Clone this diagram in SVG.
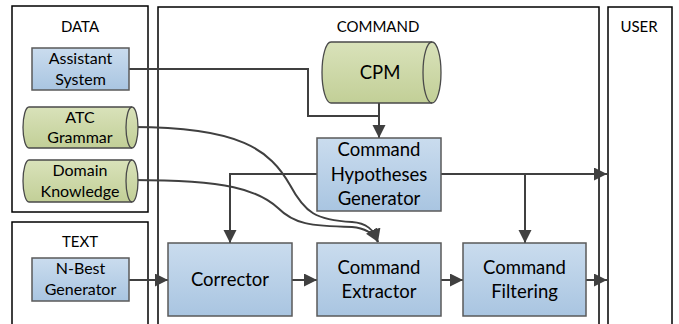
<svg xmlns="http://www.w3.org/2000/svg" width="679" height="324" viewBox="0 0 679 324">
<defs>
<linearGradient id="gb" x1="0" y1="0" x2="0" y2="1"><stop offset="0" stop-color="#cadcee"/><stop offset="1" stop-color="#a9c5e1"/></linearGradient>
<linearGradient id="gg" x1="0" y1="0" x2="0" y2="1"><stop offset="0" stop-color="#d9e2ba"/><stop offset="1" stop-color="#c2cf97"/></linearGradient>
<marker id="ah" markerUnits="userSpaceOnUse" markerWidth="14" markerHeight="14" refX="13" refY="6.5" orient="auto"><path d="M0,0 L13,6.5 L0,13 Z" fill="#404040"/></marker>
<style>
.panel{fill:#fff;stroke:#000;stroke-width:1.5}
.box{fill:url(#gb);stroke:#5a5a5a;stroke-width:1.5}
.cyl{fill:url(#gg);stroke:#4a4a4a;stroke-width:1.3}
.cin{fill:none;stroke:#4a4a4a;stroke-width:1.3}
.t{font-family:Lato,"Liberation Sans",sans-serif;fill:#000;text-anchor:middle}
.ti{font-size:15px}
.s{font-size:16px}
.b{font-size:18.5px}
.c{fill:none;stroke:#404040;stroke-width:2}
.a{marker-end:url(#ah)}
</style>
</defs>
<g id="panels">
<rect id="panel-data" class="panel" x="12" y="6" width="136" height="206"/>
<rect id="panel-text" class="panel" x="12" y="222" width="136" height="110"/>
<rect id="panel-command" class="panel" x="158" y="7" width="441" height="325"/>
<rect id="panel-user" class="panel" x="608" y="7" width="64" height="325"/>
<text class="t ti" x="80" y="32">DATA</text>
<text class="t ti" x="80" y="247">TEXT</text>
<text class="t ti" x="378" y="32">COMMAND</text>
<text class="t ti" x="639" y="32">USER</text>
</g>
<g id="connectors">
<path class="c" d="M129,69 H308 V116 H379"/>
<path class="c a" d="M379,103 V138"/>
<path class="c a" d="M133,127 C240,127 270,150 290,185 C305,213 316,220 352,222 C366,223 374,229 378,242"/>
<path class="c a" d="M133,180 C228,180 258,190 278,208 C294,224 310,226 352,227 C365,228 373,233 378,242"/>
<path class="c a" d="M317,174 H230 V243"/>
<path class="c a" d="M441,174 H607"/>
<path class="c a" d="M525,174 V243"/>
<path class="c a" d="M129,280 H168"/>
<path class="c a" d="M292,280 H317"/>
<path class="c a" d="M441,280 H463"/>
<path class="c a" d="M586,280 H607"/>
</g>
<g id="assistant-system">
<rect class="box" x="32" y="48" width="97" height="42"/>
<text class="t s" x="80.5" y="64">Assistant</text>
<text class="t s" x="80.5" y="85">System</text>
</g>
<g id="atc-grammar">
<path class="cyl" d="M29,107 H132 A6,20.5 0 0 1 132,148 H29 A6,20.5 0 0 1 29,107 Z"/>
<path class="cin" d="M132,107 A6,20.5 0 0 0 132,148"/>
<text class="t s" x="80" y="123">ATC</text>
<text class="t s" x="80" y="143">Grammar</text>
</g>
<g id="domain-knowledge">
<path class="cyl" d="M29,160 H132 A6,21 0 0 1 132,202 H29 A6,21 0 0 1 29,160 Z"/>
<path class="cin" d="M132,160 A6,21 0 0 0 132,202"/>
<text class="t s" x="80" y="176">Domain</text>
<text class="t s" x="80" y="197">Knowledge</text>
</g>
<g id="n-best-generator">
<rect class="box" x="32" y="258" width="97" height="43"/>
<text class="t s" x="80.5" y="274">N-Best</text>
<text class="t s" x="80.5" y="295">Generator</text>
</g>
<g id="cpm">
<path class="cyl" d="M331,42 H432 A9,30.5 0 0 1 432,103 H331 A9,30.5 0 0 1 331,42 Z"/>
<path class="cin" d="M432,42 A9,30.5 0 0 0 432,103"/>
<text class="t b" x="380" y="79">CPM</text>
</g>
<g id="command-hypotheses-generator">
<rect class="box" x="317" y="138" width="124" height="73"/>
<text class="t b" x="379" y="156">Command</text>
<text class="t b" x="379" y="181">Hypotheses</text>
<text class="t b" x="379" y="205">Generator</text>
</g>
<g id="corrector">
<rect class="box" x="168" y="243" width="124" height="73"/>
<text class="t b" x="230" y="286">Corrector</text>
</g>
<g id="command-extractor">
<rect class="box" x="317" y="243" width="124" height="73"/>
<text class="t b" x="379" y="274">Command</text>
<text class="t b" x="379" y="298">Extractor</text>
</g>
<g id="command-filtering">
<rect class="box" x="463" y="243" width="123" height="73"/>
<text class="t b" x="524.5" y="274">Command</text>
<text class="t b" x="524.5" y="298">Filtering</text>
</g>
</svg>
